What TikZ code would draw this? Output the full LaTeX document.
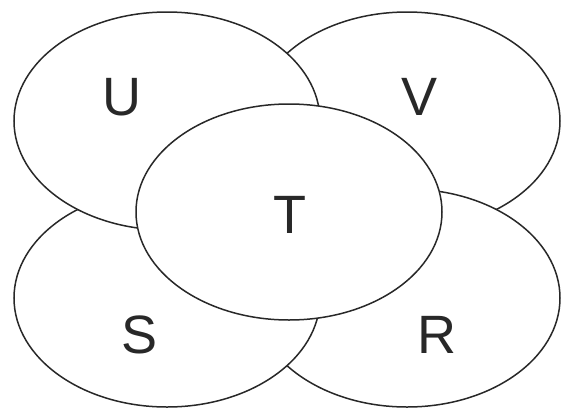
\documentclass[tikz,border=0pt]{standalone}
\usepackage{fontspec}
\setmainfont{Liberation Sans}
\usetikzlibrary{positioning}
\definecolor{setline}{RGB}{40, 40, 40}

\tikzset{
  setshape/.style={fill=white, draw=setline, line width=1.5pt},
  setlabel/.style={font=\fontsize{54}{60}\selectfont, text=setline}
}

\begin{document}
\begin{tikzpicture}[x=1pt, y=-1pt]
            \useasboundingbox (0,0) rectangle (562,410);

            % V ellipse (top right, lowest layer)
            \draw[setshape] (407,121) ellipse [x radius=153, y radius=109];
            % R ellipse (bottom right)
            \draw[setshape] (407,298) ellipse [x radius=153, y radius=109];
            % S ellipse (bottom left)
            \draw[setshape] (167,298) ellipse [x radius=153, y radius=109];
            % U ellipse (top left)
            \draw[setshape] (167,121) ellipse [x radius=153, y radius=109];
            % T ellipse (middle, on top)
            \draw[setshape] (289,212) ellipse [x radius=153, y radius=108];

            % labels
            \node[setlabel] (labU) at (122,97) {U};
            \node[setlabel] (labV) at (420,97) {V};
            \node[setlabel] (labT) at (290,215) {T};
            \node[setlabel] (labS) at (140,335) {S};
            \node[setlabel] (labR) at (437,335) {R};
        \end{tikzpicture}
\end{document}
